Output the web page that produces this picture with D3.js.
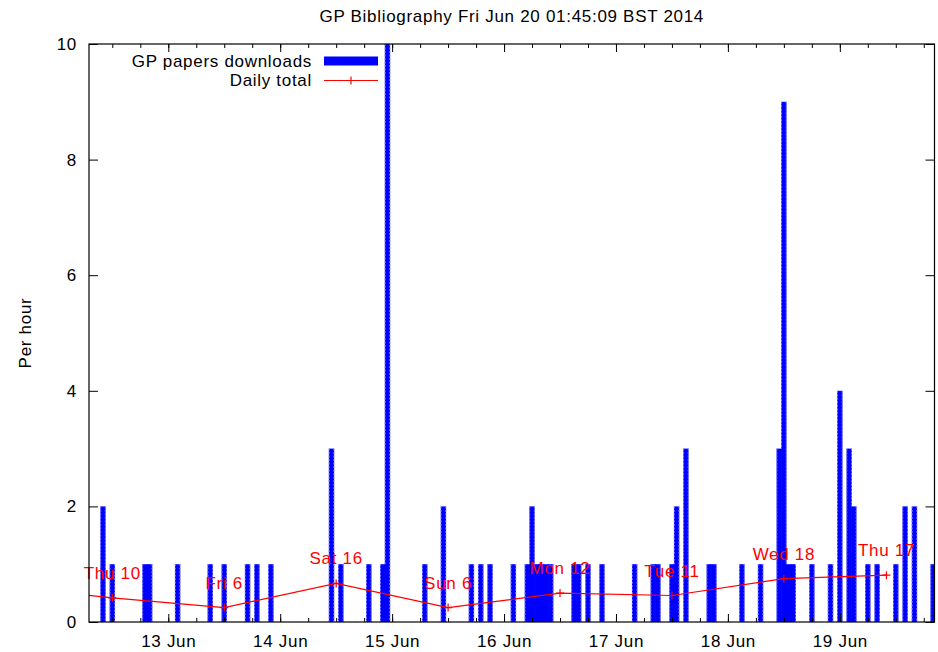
<!DOCTYPE html>
<html>
<head>
<meta charset="utf-8">
<script src="https://cdn.jsdelivr.net/npm/d3@7"></script>
<style>
    body { margin: 0; background: #fff; }
    svg text { font-family: "Liberation Sans", Arial, sans-serif; font-size: 17px; letter-spacing: 0.7px; }
</style>
</head>
<body>
<svg id="chart"></svg>
<script>
// hourly downloads (hour, count)
const barTimes = [
    "2014-06-12 10:00", "2014-06-12 12:00", "2014-06-12 19:00", "2014-06-12 20:00",
    "2014-06-13 02:00", "2014-06-13 09:00", "2014-06-13 12:00", "2014-06-13 17:00", "2014-06-13 19:00", "2014-06-13 22:00",
    "2014-06-14 11:00", "2014-06-14 13:00", "2014-06-14 19:00", "2014-06-14 22:00", "2014-06-14 23:00",
    "2014-06-15 07:00", "2014-06-15 11:00", "2014-06-15 17:00", "2014-06-15 19:00", "2014-06-15 21:00",
    "2014-06-16 02:00", "2014-06-16 05:00", "2014-06-16 06:00", "2014-06-16 07:00", "2014-06-16 08:00", "2014-06-16 09:00",
    "2014-06-16 10:00", "2014-06-16 15:00", "2014-06-16 16:00", "2014-06-16 18:00", "2014-06-16 21:00",
    "2014-06-17 04:00", "2014-06-17 08:00", "2014-06-17 09:00", "2014-06-17 12:00", "2014-06-17 13:00", "2014-06-17 15:00",
    "2014-06-17 20:00", "2014-06-17 21:00",
    "2014-06-18 03:00", "2014-06-18 07:00", "2014-06-18 11:00", "2014-06-18 12:00", "2014-06-18 13:00", "2014-06-18 14:00",
    "2014-06-18 18:00", "2014-06-18 22:00",
    "2014-06-19 00:00", "2014-06-19 02:00", "2014-06-19 03:00", "2014-06-19 06:00", "2014-06-19 08:00", "2014-06-19 12:00",
    "2014-06-19 14:00", "2014-06-19 16:00", "2014-06-19 20:00"
];
const barCounts = [
    2, 1, 1, 1,
    1, 1, 1, 1, 1, 1,
    3, 1, 1, 1, 10,
    1, 2, 1, 1, 1,
    1, 1, 2, 1, 1, 1,
    1, 1, 1, 1, 1,
    1, 1, 1, 1, 2, 3,
    1, 1,
    1, 1, 3, 9, 1, 1,
    1, 1,
    4, 3, 2, 1, 1, 1,
    2, 2, 1
];

// daily totals (plotted as downloads per hour)
const dayTimes = ["2014-06-11 12:00", "2014-06-12 12:00", "2014-06-13 12:00", "2014-06-14 12:00", "2014-06-15 12:00",
    "2014-06-16 12:00", "2014-06-17 12:00", "2014-06-18 12:00", "2014-06-19 10:00"];
const dayNames = ["Wed", "Thu", "Fri", "Sat", "Sun", "Mon", "Tue", "Wed", "Thu"];
const dayCounts = [15, 10, 6, 16, 6, 12, 11, 18, 17];
const dayHours = [24, 24, 24, 24, 24, 24, 24, 24, 21];

const yTicks = [0, 2, 4, 6, 8, 10];
const xDomain = ["2014-06-12 07:00", "2014-06-19 20:18"];
const titleText = "GP Bibliography Fri Jun 20 01:45:09 BST 2014";

const BAR_FILL = '#0000ff';
const BAR_EDGE = '#8080ff';

class DownloadsChart {
    constructor(_config) {
        this.config = {
            parentElement: _config.parentElement,
            containerWidth: _config.containerWidth || 938,
            containerHeight: _config.containerHeight || 652,
            margin: _config.margin || {top: 44, right: 3.5, bottom: 30, left: 89}
        };
        this.initVis();
    }

    initVis() {
        let vis = this;
        const parse = d3.utcParse("%Y-%m-%d %H:%M");
        vis.width = vis.config.containerWidth - vis.config.margin.left - vis.config.margin.right;
        vis.height = vis.config.containerHeight - vis.config.margin.top - vis.config.margin.bottom;

        vis.bars = barTimes.map((t, i) => ({time: parse(t), count: barCounts[i]}));
        vis.days = dayTimes.map((t, i) => ({
            time: parse(t),
            label: dayNames[i] + " " + dayCounts[i],
            value: dayCounts[i] / dayHours[i]
        }));

        vis.xScale = d3.scaleUtc()
            .domain(xDomain.map(parse))
            .range([0, vis.width]);
        vis.yScale = d3.scaleLinear()
            .domain([0, 10])
            .range([vis.height, 0]);

        vis.svg = d3.select(vis.config.parentElement)
            .attr('width', vis.config.containerWidth)
            .attr('height', vis.config.containerHeight);

        vis.chart = vis.svg.append('g')
            .attr('transform', `translate(${vis.config.margin.left},${vis.config.margin.top})`);

        vis.chart.append('clipPath').attr('id', 'plot-clip')
            .append('rect')
            .attr('width', vis.width)
            .attr('height', vis.height);

        vis.renderVis();
    }

    renderVis() {
        let vis = this;
        const hour = 3600 * 1000;
        const x0 = d => vis.xScale(new Date(+d.time - hour / 2));
        const x1 = d => vis.xScale(new Date(+d.time + hour / 2));

        // hourly bars (a little overlap so neighbouring boxes merge without seams)
        const barG = vis.chart.append('g').attr('clip-path', 'url(#plot-clip)');
        barG.selectAll('.bar')
            .data(vis.bars)
            .join('rect')
            .attr('class', 'bar')
            .attr('x', d => x0(d) - 0.3)
            .attr('width', d => x1(d) - x0(d) + 0.6)
            .attr('y', d => vis.yScale(d.count))
            .attr('height', d => vis.yScale(0) - vis.yScale(d.count))
            .attr('fill', BAR_FILL);

        // dotted light edges only where a box side is exposed
        const countAt = new Map(vis.bars.map(d => [+d.time, d.count]));
        const edges = [];
        vis.bars.forEach(d => {
            let left = countAt.get(+d.time - hour) || 0;
            let right = countAt.get(+d.time + hour) || 0;
            if (left < d.count) edges.push({x: x0(d), top: d.count, bottom: left});
            if (right < d.count) edges.push({x: x1(d), top: d.count, bottom: right});
        });
        barG.selectAll('.edge')
            .data(edges)
            .join('line')
            .attr('class', 'edge')
            .attr('x1', d => d.x).attr('x2', d => d.x)
            .attr('y1', d => vis.yScale(d.top))
            .attr('y2', d => vis.yScale(d.bottom))
            .attr('stroke', BAR_EDGE)
            .attr('stroke-width', 1)
            .attr('stroke-dasharray', '2,1.5');

        // daily total line
        const line = d3.line()
            .x(d => vis.xScale(d.time))
            .y(d => vis.yScale(d.value));

        const daily = vis.chart.append('g').attr('clip-path', 'url(#plot-clip)');
        daily.append('path')
            .datum(vis.days)
            .attr('d', line)
            .attr('fill', 'none')
            .attr('stroke', '#ff0000')
            .attr('stroke-width', 1.2);

        daily.selectAll('.marker')
            .data(vis.days)
            .join('path')
            .attr('class', 'marker')
            .attr('d', d => {
                let x = vis.xScale(d.time), y = vis.yScale(d.value);
                return `M${x - 4},${y}H${x + 4}M${x},${y - 4}V${y + 4}`;
            })
            .attr('stroke', '#ff0000')
            .attr('stroke-width', 1.2);

        const inside = vis.days.filter(d => vis.xScale(d.time) >= 0);
        vis.chart.selectAll('.day-label')
            .data(inside)
            .join('text')
            .attr('class', 'day-label')
            .attr('x', d => vis.xScale(d.time))
            .attr('y', d => vis.yScale(d.value) - 19)
            .attr('text-anchor', 'middle')
            .attr('fill', '#ff0000')
            .text(d => d.label);

        // axes, ticks point inward and are mirrored
        const yLeft = vis.chart.append('g')
            .call(d3.axisLeft(vis.yScale).tickValues(yTicks).tickSize(-9).tickPadding(12));
        const yRight = vis.chart.append('g')
            .attr('transform', `translate(${vis.width},0)`)
            .call(d3.axisRight(vis.yScale).tickValues(yTicks).tickSize(-9).tickFormat(''));

        const xMajor = vis.chart.append('g')
            .attr('transform', `translate(0,${vis.height})`)
            .call(d3.axisBottom(vis.xScale).ticks(d3.utcDay.every(1)).tickSize(-8).tickPadding(13)
                .tickFormat(d3.utcFormat('%-d %b')));
        const xMinor = vis.chart.append('g')
            .attr('transform', `translate(0,${vis.height})`)
            .call(d3.axisBottom(vis.xScale).ticks(d3.utcHour.every(6)).tickSize(-4).tickFormat(''));
        const xTopMajor = vis.chart.append('g')
            .call(d3.axisTop(vis.xScale).ticks(d3.utcDay.every(1)).tickSize(-8).tickFormat(''));
        const xTopMinor = vis.chart.append('g')
            .call(d3.axisTop(vis.xScale).ticks(d3.utcHour.every(6)).tickSize(-4).tickFormat(''));

        [yLeft, yRight, xMajor, xMinor, xTopMajor, xTopMinor].forEach(g => {
            g.select('.domain').remove();
            g.selectAll('line').attr('stroke', '#000').attr('stroke-width', 1);
            g.selectAll('text').attr('fill', '#000');
        });

        // frame
        vis.chart.append('rect')
            .attr('width', vis.width)
            .attr('height', vis.height)
            .attr('fill', 'none')
            .attr('stroke', '#000')
            .attr('stroke-width', 1.2);

        // titles
        vis.svg.append('text')
            .attr('x', vis.config.margin.left + vis.width / 2)
            .attr('y', 22)
            .attr('text-anchor', 'middle')
            .text(titleText);

        vis.svg.append('text')
            .attr('transform', `translate(31,${vis.config.margin.top + vis.height / 2}) rotate(-90)`)
            .attr('text-anchor', 'middle')
            .text('Per hour');

        // legend
        const legend = vis.svg.append('g');
        legend.append('text')
            .attr('x', 312).attr('y', 66.5)
            .attr('text-anchor', 'end')
            .text('GP papers downloads');
        legend.append('rect')
            .attr('x', 324).attr('y', 56.5)
            .attr('width', 54).attr('height', 9)
            .attr('fill', BAR_FILL);
        legend.append('path')
            .attr('d', 'M324,65.5H378')
            .attr('stroke', BAR_EDGE)
            .attr('stroke-dasharray', '2,1.5');
        legend.append('text')
            .attr('x', 312).attr('y', 86)
            .attr('text-anchor', 'end')
            .text('Daily total');
        legend.append('path')
            .attr('d', 'M324,80.5H378M347,80.5H355M351,76.5V84.5')
            .attr('stroke', '#ff0000')
            .attr('stroke-width', 1.2);
    }
}

new DownloadsChart({parentElement: '#chart'});
</script>
</body>
</html>
